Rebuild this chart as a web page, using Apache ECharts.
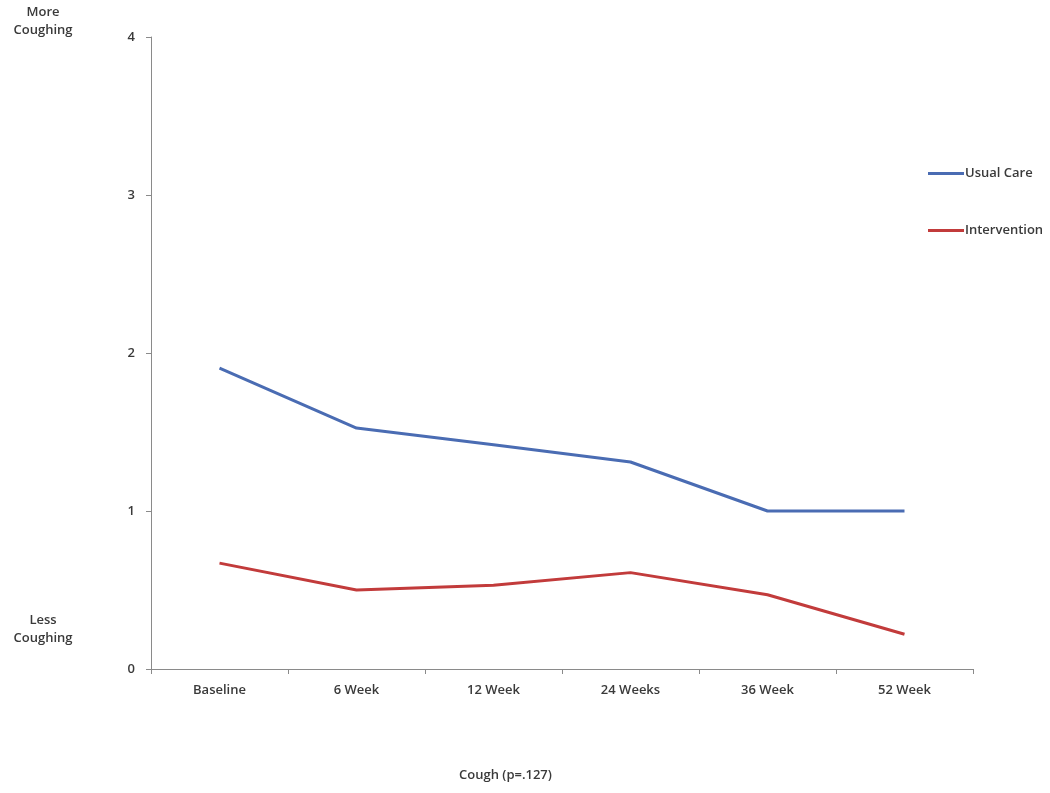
<!DOCTYPE html>
<html>
<head>
<meta charset="utf-8">
<script src="https://cdn.jsdelivr.net/npm/echarts@6/dist/echarts.min.js"></script>
<style>
html,body{margin:0;padding:0;background:#fff;}
#chart{width:1050px;height:793px;}
</style>
</head>
<body>
<div id="chart"></div>
<script>
const categories = ['Baseline', '6 Week', '12 Week', '24 Weeks', '36 Week', '52 Week'];
const usualCare = [1.905, 1.525, 1.42, 1.31, 1.0, 1.0];
const intervention = [0.67, 0.50, 0.53, 0.61, 0.47, 0.22];
const yTicks = [0, 1, 2, 3, 4];

const FONT = '"Open Sans", "Liberation Sans", sans-serif';
const TXT = '#3a3a3a';
const FS = 13;
const FW = 600;

const chart = echarts.init(document.getElementById('chart'), null, {renderer: 'canvas'});
chart.setOption({
  animation: false,
  backgroundColor: '#ffffff',
  grid: {left: 151, right: 77, top: 37, bottom: 124, containLabel: false},
  title: {
    text: 'Cough (p=.127)',
    left: 454, top: 764,
    textStyle: {fontFamily: FONT, fontSize: FS, fontWeight: FW, color: TXT}
  },
  legend: {
    orient: 'vertical',
    left: 923, top: 162,
    itemWidth: 36, itemHeight: 3, itemGap: 44,
    icon: 'rect',
    textStyle: {fontFamily: FONT, fontSize: FS, fontWeight: FW, color: TXT, padding: [0, 0, 0, -4]},
    data: ['Usual Care', 'Intervention']
  },
  xAxis: {
    type: 'category',
    data: categories,
    boundaryGap: true,
    axisLine: {lineStyle: {color: '#8a8a8a', width: 1}},
    axisTick: {show: true, length: 5, lineStyle: {color: '#8a8a8a'}},
    axisLabel: {fontFamily: FONT, fontSize: FS, fontWeight: FW, color: TXT, margin: 15}
  },
  yAxis: {
    type: 'value',
    min: yTicks[0], max: yTicks[yTicks.length - 1], interval: 1,
    axisLine: {show: true, lineStyle: {color: '#8a8a8a', width: 1}},
    axisTick: {show: true, length: 5, lineStyle: {color: '#8a8a8a'}},
    splitLine: {show: false},
    axisLabel: {fontFamily: FONT, fontSize: FS, fontWeight: FW, color: TXT, margin: 16}
  },
  graphic: [
    {type: 'text', x: 43, y: 3, style: {text: 'More\nCoughing', fontFamily: FONT, fontSize: FS, fontWeight: FW, lineHeight: 18, fill: TXT, align: 'center'}},
    {type: 'text', x: 43, y: 611, style: {text: 'Less\nCoughing', fontFamily: FONT, fontSize: FS, fontWeight: FW, lineHeight: 18, fill: TXT, align: 'center'}}
  ],
  series: [
    {
      name: 'Usual Care', type: 'line', data: usualCare,
      symbol: 'none', color: '#4a6cb3',
      lineStyle: {width: 3, color: '#4a6cb3'}
    },
    {
      name: 'Intervention', type: 'line', data: intervention,
      symbol: 'none', color: '#c23b3b',
      lineStyle: {width: 3, color: '#c23b3b'}
    }
  ]
});
</script>
</body>
</html>
